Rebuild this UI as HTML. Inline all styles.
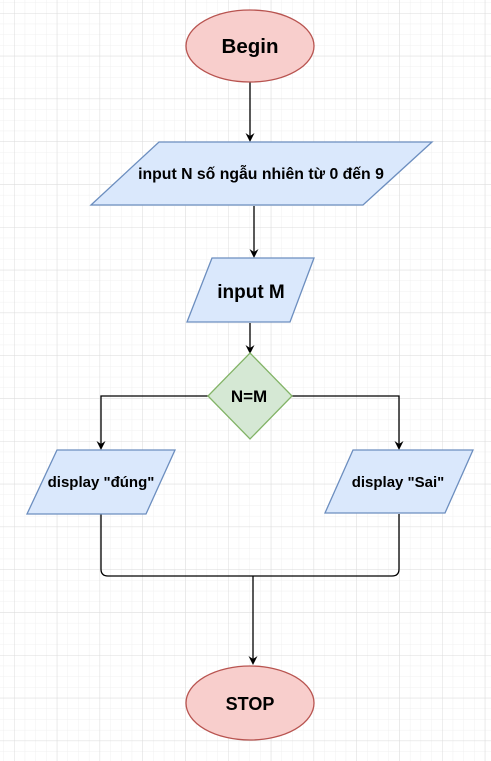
<!DOCTYPE html>
<html><head><meta charset="utf-8"><style>
html,body{margin:0;padding:0;width:491px;height:761px;overflow:hidden;background:#fff}
</style></head><body>
<svg width="491" height="761" viewBox="0 0 491 761" xmlns="http://www.w3.org/2000/svg" style="position:absolute;left:0;top:0">
<defs>
<pattern id="minor" x="14" y="13" width="10.7" height="10.7" patternUnits="userSpaceOnUse">
<path d="M0 0H10.7M0 0V10.7" stroke="#f0f0f0" stroke-width="1" fill="none"/>
</pattern>
<pattern id="major" x="14" y="13" width="42.8" height="42.8" patternUnits="userSpaceOnUse">
<path d="M0 0H42.8M0 0V42.8" stroke="#dcdcdc" stroke-width="1" fill="none"/>
</pattern>
</defs>
<rect width="491" height="761" fill="url(#minor)"/>
<rect width="491" height="761" fill="url(#major)"/>
<g stroke="#000" stroke-width="1.3" fill="none">
<path d="M250 82V136"/>
<path d="M254 206V252"/>
<path d="M250 323V348"/>
<path d="M208 396H101V444"/>
<path d="M292 396H399V444"/>
<path d="M101 514V569Q101 576 108 576H392Q399 576 399 569V514"/>
<path d="M253 576V659"/>
</g>
<g fill="#000">
<path d="M245.5 133 L250 142 L254.5 133 L250 136 Z"/>
<path d="M249.5 249 L254 258 L258.5 249 L254 252 Z"/>
<path d="M245.5 345 L250 354 L254.5 345 L250 348 Z"/>
<path d="M96.5 441 L101 450 L105.5 441 L101 444 Z"/>
<path d="M394.5 441 L399 450 L403.5 441 L399 444 Z"/>
<path d="M248.5 656 L253 665 L257.5 656 L253 659 Z"/>
</g>
<g font-family="Liberation Sans, Noto Sans CJK SC, sans-serif" font-weight="bold" text-anchor="middle">
<ellipse cx="250" cy="46" rx="64" ry="36" fill="#f8cecc" stroke="#b85450" stroke-width="1.3"/>
<text x="250" y="53" font-size="20.5">Begin</text>
<polygon points="159,142 432,142 363,205 91,205" fill="#dae8fc" stroke="#6c8ebf" stroke-width="1.3"/>
<text x="261" y="179" font-size="15.8">input N số ngẫu nhiên từ 0 đến 9</text>
<polygon points="212,258 314,258 290,322 187,322" fill="#dae8fc" stroke="#6c8ebf" stroke-width="1.3"/>
<text x="251" y="298" font-size="19">input M</text>
<polygon points="250,353 292,396 250,439 208,396" fill="#d5e8d4" stroke="#82b366" stroke-width="1.3"/>
<text x="249" y="402" font-size="17">N=M</text>
<polygon points="57,450 175,450 146,514 27,514" fill="#dae8fc" stroke="#6c8ebf" stroke-width="1.3"/>
<text x="101" y="487" font-size="15">display "đúng"</text>
<polygon points="353,450 473,450 445,513 325,513" fill="#dae8fc" stroke="#6c8ebf" stroke-width="1.3"/>
<text x="398" y="487" font-size="15">display "Sai"</text>
<ellipse cx="250" cy="703" rx="64" ry="37" fill="#f8cecc" stroke="#b85450" stroke-width="1.3"/>
<text x="250" y="710" font-size="18">STOP</text>
</g>
</svg>
</body></html>
